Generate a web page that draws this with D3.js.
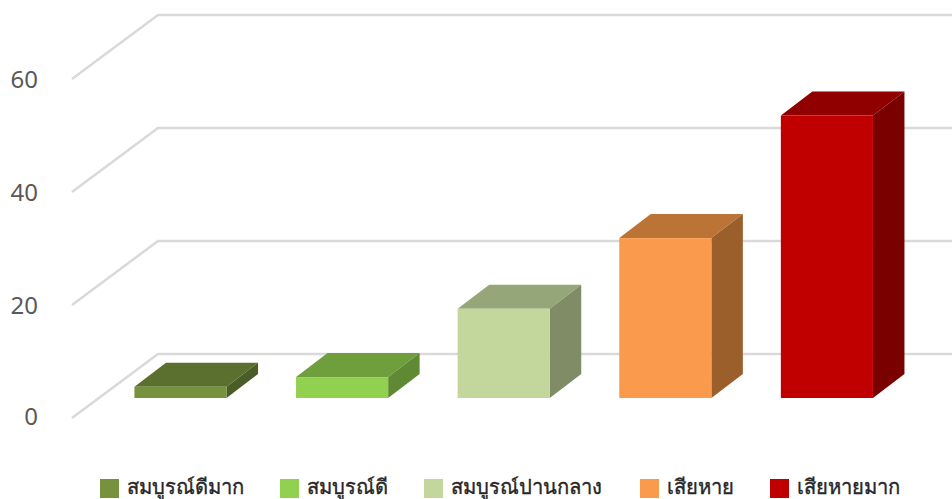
<!DOCTYPE html>
<html><head><meta charset="utf-8">
<script src="https://cdn.jsdelivr.net/npm/d3@7"></script>
<style>html,body{margin:0;padding:0;background:#fff;overflow:hidden}svg{display:block}
text{font-family:"Noto Sans","Open Sans",sans-serif}</style></head><body>
<svg id="c" width="952" height="499"></svg>
<script>
const categories = ["สมบูรณ์ดีมาก","สมบูรณ์ดี","สมบูรณ์ปานกลาง","เสียหาย","เสียหายมาก"];
const values = [2, 3.7, 15.8, 28.3, 50];
const tickValues = [0, 20, 40, 60];
const frontColors = ["#76923c","#92d050","#c3d69b","#fa9a4c","#c00000"];
const topColors = ["#5b702e","#6f9e3d","#95a678","#bb7435","#900000"];
const sideColors = ["#4b5d26","#5f8a33","#7f8c66","#9b5f2b","#7a0000"];
const legendX = [100, 280, 424, 640, 770];

const svg = d3.select("#c");
const axisY = d3.scaleLinear().domain([0,60]).range([418,79]);
const x = d3.scaleBand().domain(categories).range([99.7,907.7]).paddingInner(0.43).paddingOuter(0.215);
const gridDx = 86, gridDy = -64, gridEnd = 952;
const barBase = 398, barDx = 31.5, barDy = -24;
const h = v => axisY(0) - axisY(v);

const g = svg.append("g");
g.selectAll("path.grid").data(tickValues).join("path").attr("class","grid")
  .attr("d", t => { const y = axisY(t); return `M72,${y}L${72+gridDx},${y+gridDy}H${gridEnd}`; })
  .attr("fill","none").attr("stroke","#d9d9d9").attr("stroke-width",2.5);

g.selectAll("text.tick").data(tickValues).join("text").attr("class","tick")
  .attr("x",38).attr("y",t=>axisY(t)+(t===0?7:9)).attr("text-anchor","end")
  .attr("font-size",24).attr("fill","#595959").text(d=>d);

const bars = g.selectAll("g.bar").data(categories).join("g").attr("class","bar");
bars.append("path").attr("fill",(d,i)=>topColors[i]).attr("d",(d,i)=>{
  const l=x(d), r=l+x.bandwidth(), t=barBase-h(values[i]);
  return `M${l},${t}L${l+barDx},${t+barDy}H${r+barDx}L${r},${t}Z`;
});
bars.append("path").attr("fill",(d,i)=>sideColors[i]).attr("d",(d,i)=>{
  const r=x(d)+x.bandwidth(), t=barBase-h(values[i]);
  return `M${r},${t}L${r+barDx},${t+barDy}V${barBase+barDy}L${r},${barBase}Z`;
});
bars.append("rect").attr("fill",(d,i)=>frontColors[i])
  .attr("x",d=>x(d)).attr("width",x.bandwidth())
  .attr("y",(d,i)=>barBase-h(values[i])).attr("height",(d,i)=>h(values[i]));

const lg = svg.selectAll("g.lg").data(categories).join("g").attr("class","lg")
  .attr("transform",(d,i)=>`translate(${legendX[i]},479)`);
lg.append("rect").attr("width",19).attr("height",19).attr("fill",(d,i)=>frontColors[i]);
lg.append("text").attr("x",27).attr("y",15).attr("font-size",20.2).attr("fill","#262626")
  .attr("stroke","#262626").attr("stroke-width",0.35).text(d=>d);
</script></body></html>
